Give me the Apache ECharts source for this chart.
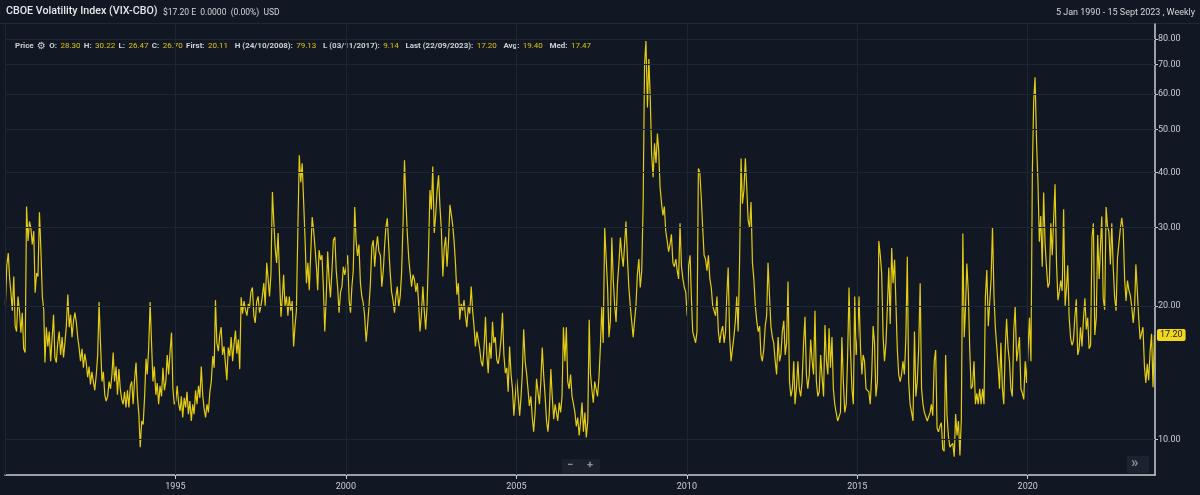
<!DOCTYPE html>
<html><head><meta charset="utf-8">
<script src="https://cdn.jsdelivr.net/npm/echarts@6/dist/echarts.min.js"></script>
<style>html,body{margin:0;padding:0;background:#121823;}#c{width:1200px;height:495px;}</style>
</head><body><div id="c"></div>
<script>
// Semi-monthly samples (approx. 5th and 20th of each month)
const startYear = 1990;
const vix1990s = [
 20.1,24.6,26.3,23.0,21.5,19.5,23.3,18.0,17.5,21.0,19.5,17.4,19.3,16.0,15.7,33.5,28.0,31.0,30.0,27.5,29.5,21.4,23.7,23.3,
 32.5,27.0,21.0,19.6,14.9,17.9,16.2,17.5,15.0,16.8,19.1,15.3,14.9,16.5,17.5,15.5,17.0,15.3,16.5,18.0,21.2,17.9,19.1,17.0,
 18.5,19.3,18.3,16.9,16.1,15.0,16.0,14.5,15.6,14.9,13.8,14.6,13.3,14.2,13.5,12.9,14.0,15.5,20.4,16.5,13.5,14.2,12.6,12.2,
 12.5,13.5,13.0,14.0,15.7,13.5,14.6,12.6,14.4,13.0,12.3,12.0,12.8,11.8,12.9,11.8,13.2,13.5,12.0,13.6,14.9,12.5,11.4,9.6,
 11.0,10.8,12.5,15.2,14.0,16.0,20.4,16.5,13.5,14.6,12.6,13.4,12.0,13.2,12.5,14.5,12.9,13.5,15.5,14.0,15.8,17.4,13.0,12.0,
 12.2,13.2,12.0,11.6,12.5,11.2,12.4,11.8,12.8,11.4,12.2,11.0,12.0,11.4,12.9,12.0,13.2,12.4,14.6,12.6,11.7,11.2,12.0,11.5,
 12.8,13.5,15.4,14.5,20.6,16.5,15.8,17.2,17.9,15.5,16.2,14.8,13.6,16.1,15.4,17.0,15.0,16.4,17.6,15.6,16.8,14.4,20.9,19.2,
 20.5,19.6,19.0,20.2,19.8,21.5,22.0,19.0,18.3,20.4,21.0,19.3,20.0,21.0,22.5,20.0,25.0,23.0,21.0,23.5,36.1,31.0,27.0,25.0,
 29.2,23.5,18.9,21.0,23.5,20.0,21.0,19.0,21.0,19.5,20.5,16.2,18.0,19.5,30.0,43.7,38.0,41.9,34.6,28.6,22.5,25.0,21.7,26.0,
 31.7,29.7,27.0,24.5,21.7,26.7,25.4,26.0,22.0,17.5,21.0,26.5,23.0,20.9,24.0,28.1,28.6,24.0,22.0,19.3,21.5,22.1,24.5,23.5
];
const vix2000s = [
 24.5,26.0,20.6,19.3,22.0,24.0,33.4,28.0,25.9,27.5,22.5,21.0,20.3,19.0,16.6,18.0,20.0,22.5,27.2,28.1,24.5,27.0,28.7,26.5,
 26.0,22.1,24.0,27.5,30.1,31.5,27.0,23.7,21.5,20.6,19.3,21.0,22.1,19.9,21.0,23.7,31.0,42.6,34.6,29.2,25.5,23.7,22.1,23.5,
 22.9,21.5,22.5,20.0,17.5,19.0,22.1,19.5,17.7,20.0,26.7,36.5,33.0,41.2,29.2,32.0,36.5,39.4,33.5,29.7,23.3,27.0,28.6,24.5,
 28.0,33.8,32.0,30.2,28.1,25.0,21.2,22.5,18.6,20.2,19.5,20.6,19.0,17.9,20.0,19.2,22.1,19.5,18.0,16.2,17.5,17.4,16.0,15.0,
 14.6,16.0,18.9,15.5,14.1,16.5,15.2,18.4,16.5,17.0,15.1,14.8,15.5,16.8,19.3,15.5,14.1,14.5,12.8,16.2,14.0,13.0,11.3,12.5,
 13.7,12.5,11.3,12.5,14.0,17.7,15.0,14.1,13.0,11.9,12.5,11.2,10.4,11.5,13.7,12.8,12.0,13.5,16.1,14.0,12.5,11.0,10.4,11.5,
 14.4,12.5,11.1,12.0,11.9,11.0,12.1,11.5,12.5,17.9,15.0,17.9,13.5,13.0,14.0,12.5,12.0,11.5,10.7,11.2,10.2,11.0,12.1,10.4,
 11.5,10.1,11.0,18.6,14.1,13.0,12.1,13.5,13.0,12.5,13.8,16.2,19.9,16.5,30.0,25.8,22.0,17.0,18.5,28.5,22.9,20.0,18.4,22.5,
 25.0,28.5,26.0,24.5,27.5,31.0,25.5,22.0,20.0,18.5,17.0,18.5,20.0,23.5,25.5,22.0,24.0,34.0,70.0,79.13,56.0,72.0,59.0,44.0,
 39.0,46.5,42.0,48.9,45.0,37.1,34.1,32.0,33.5,29.5,28.0,26.5,27.5,29.0,25.0,24.5,25.5,24.0,23.0,30.7,24.5,23.0,22.0,21.5
];
const vix2010s = [
 19.0,24.6,26.0,20.5,17.5,17.0,16.5,17.5,40.8,40.0,35.0,30.0,26.0,25.5,24.0,26.0,23.0,22.0,20.0,19.5,19.0,21.0,17.5,16.5,
 17.5,18.0,16.5,17.5,21.0,24.4,17.0,15.0,16.0,17.0,18.5,21.0,17.5,25.0,43.0,34.0,36.5,43.0,37.0,31.2,30.0,34.3,25.0,23.0,
 20.0,18.5,17.5,18.0,15.5,15.0,16.0,18.0,19.0,25.0,21.0,18.0,17.0,16.5,15.0,14.0,17.0,15.0,15.5,17.5,18.5,15.5,16.5,22.7,
 13.5,12.5,13.0,15.0,12.0,13.0,15.0,13.0,12.5,13.5,16.5,18.9,14.0,13.0,14.0,16.8,15.0,14.0,19.5,13.5,12.5,12.8,15.5,13.8,
 12.5,18.1,15.0,14.0,17.8,14.5,17.0,13.0,12.0,11.5,11.0,10.9,11.5,17.0,13.5,11.5,12.0,15.5,22.0,16.0,13.0,12.0,21.0,15.5,
 17.0,21.0,16.0,14.0,15.5,15.0,13.0,13.0,12.8,12.0,14.0,18.0,16.5,12.5,13.5,28.0,26.0,23.6,17.0,15.0,16.5,20.0,24.4,18.2,
 27.0,22.5,25.4,20.0,16.0,14.0,13.5,14.0,15.0,14.0,17.0,25.8,13.5,12.0,11.5,11.0,17.5,12.5,13.5,16.0,22.5,13.0,12.0,11.5,
 11.5,11.0,11.0,11.5,12.0,11.3,15.0,15.9,10.6,10.4,10.7,10.9,9.5,9.4,15.5,11.3,10.1,9.6,9.7,9.8,9.14,11.4,10.2,11.0,
 9.2,11.1,29.1,17.0,19.6,24.9,21.4,16.0,13.0,13.2,15.0,12.0,12.7,12.0,13.0,12.0,13.0,12.0,21.0,24.1,18.0,18.1,23.0,30.1,
 21.0,17.8,16.0,14.5,13.0,16.5,13.0,12.0,15.9,18.7,16.0,15.0,13.0,12.5,17.6,19.9,15.0,15.0,17.0,13.0,12.7,12.3,15.0,13.4
];
const vix2020s = [
 13.5,18.8,15.0,40.1,57.8,65.5,46.8,38.0,27.9,31.9,24.5,36.0,27.7,24.5,22.0,22.5,30.7,26.0,26.0,37.6,24.9,20.6,21.5,22.8,
 21.6,33.0,20.0,22.0,24.7,18.9,16.9,16.3,16.7,18.8,20.7,15.5,16.0,17.9,16.2,18.6,20.8,17.7,18.8,16.0,16.3,28.6,30.7,17.2,
 18.8,28.9,23.0,27.6,31.8,20.8,19.6,33.4,30.2,29.4,24.8,30.7,24.6,21.0,19.5,25.6,25.5,29.9,31.6,29.7,22.9,20.5,22.8,21.7,
 21.1,19.9,18.3,20.0,24.8,21.7,18.7,16.8,16.9,17.9,14.6,13.4,14.8,13.6,15.8,17.3,13.1,17.2
];
const yTickValues = [10, 20, 30, 40, 50, 60, 70, 80];
const xLabelYears = [1995, 2000, 2005, 2010, 2015, 2020];
const xGridYears = [1990, 1995, 2000, 2005, 2010, 2015, 2020];
const titleText = 'CBOE Volatility Index (VIX-CBO)';
const quoteText = '$17.20 E  0.0000  (0.00%)  USD';
const rangeText = '5 Jan 1990 - 15 Sept 2023 , Weekly';
const statLabels = ['O:', 'H:', 'L:', 'C:', 'First:', 'H (24/10/2008):', 'L (03/11/2017):', 'Last (22/09/2023):', 'Avg:', 'Med:'];
const statValues = ['28.30', '30.22', '26.47', '26.70', '20.11', '79.13', '9.14', '17.20', '19.40', '17.47'];

const values = vix1990s.concat(vix2000s, vix2010s, vix2020s);
const seriesData = values.map((v, i) => {
  const yr = startYear + Math.floor(i / 24);
  const mo = Math.floor((i % 24) / 2);
  const dy = (i % 2) ? 20 : 5;
  return [new Date(yr, mo, dy).getTime(), v];
});
const lastValue = values[values.length - 1];
const yearTs = y => new Date(y, 0, 1).getTime();

const axisColor = '#c9cdd3';
const gridColor = '#1d2634';
const lineColor = '#e3cc12';

let statRich = '{l|Price} {g|⚙} ';
statLabels.forEach((l, i) => {
  statRich += '{l|' + l + '} {v|' + statValues[i] + '}' + (i < 4 ? ' ' : '  ');
});

const chart = echarts.init(document.getElementById('c'), null, {renderer: 'canvas'});
chart.setOption({
  backgroundColor: '#121823',
  animation: false,
  grid: {left: 5, right: 45, top: 24, bottom: 20, containLabel: false},
  xAxis: {
    type: 'value',
    min: yearTs(1990), max: new Date(2023, 8, 26).getTime(),
    axisLine: {show: true, lineStyle: {color: axisColor, width: 1.5}},
    axisTick: {show: true, customValues: xLabelYears.map(yearTs), length: 4, lineStyle: {color: axisColor}},
    axisLabel: {customValues: xLabelYears.map(yearTs), formatter: v => String(new Date(v).getFullYear()),
      color: axisColor, fontSize: 9, fontFamily: 'Roboto', margin: 7},
    splitLine: {show: false}
  },
  yAxis: {
    type: 'log', logBase: 10, position: 'right', min: 8.31, max: 86.4,
    axisLine: {show: true, lineStyle: {color: axisColor, width: 1.5}},
    axisTick: {show: true, customValues: yTickValues, length: 3, lineStyle: {color: axisColor}},
    axisLabel: {customValues: yTickValues, formatter: v => Number(v).toFixed(2),
      color: axisColor, fontSize: 9, fontFamily: 'Roboto', margin: 3},
    splitLine: {show: false}
  },
  series: [
    {
      type: 'line', data: [], silent: true, z: 1,
      markLine: {
        silent: true, symbol: ['none', 'none'], label: {show: false}, animation: false,
        lineStyle: {color: gridColor, width: 1, type: 'solid'},
        data: yTickValues.map(v => ({yAxis: v})).concat(xGridYears.map(y => ({xAxis: yearTs(y)})))
      }
    },
    {
      type: 'line', data: seriesData, showSymbol: false, z: 3,
      lineStyle: {color: lineColor, width: 1.2}, clip: true,
      markLine: {
        silent: true, symbol: ['none', 'none'], animation: false,
        lineStyle: {color: 'rgba(0,0,0,0)', width: 0},
        label: {show: true, position: 'end', formatter: lastValue.toFixed(2), color: '#15171c',
          backgroundColor: '#f2d81c', padding: [2, 3, 1, 3], borderRadius: 2, fontSize: 9, fontFamily: 'Roboto', distance: 2},
        emphasis: {disabled: true},
        data: [{yAxis: lastValue}]
      }
    }
  ],
  graphic: [
    {type: 'line', shape: {x1: 0, y1: 23.5, x2: 1200, y2: 23.5}, style: {stroke: '#1f2835', lineWidth: 1}, z: 0, silent: true},
    {type: 'text', left: 6, top: 6, style: {text: titleText, fill: '#e4e7eb', font: '500 10.7px Roboto'}},
    {type: 'text', left: 163, top: 8, style: {text: quoteText, fill: '#d3d6db', font: '8.5px Roboto'}},
    {type: 'text', right: 5, top: 8, style: {text: rangeText, fill: '#d3d6db', font: '9px Roboto'}},
    {type: 'text', left: 15, top: 40, style: {
      text: statRich,
      rich: {
        l: {fill: '#cdd1d7', font: 'bold 8px Roboto'},
        v: {fill: '#dcc515', font: '8px Roboto'},
        g: {fill: '#cdd1d7', font: '10px DejaVu Sans'}
      }
    }},
    {type: 'rect', shape: {x: 562, y: 459, width: 38, height: 15}, style: {fill: '#1a212c'}},
    {type: 'text', left: 567, top: 460, style: {text: '−', fill: '#8c939c', font: 'bold 11px Roboto'}},
    {type: 'text', left: 587, top: 460, style: {text: '+', fill: '#8c939c', font: 'bold 11px Roboto'}},
    {type: 'rect', shape: {x: 1127, y: 456, width: 22, height: 17}, style: {fill: '#1c2330'}},
    {type: 'text', left: 1131, top: 456, style: {text: '»', fill: '#8c939c', font: 'bold 15px Roboto'}}
  ]
});
</script></body></html>
